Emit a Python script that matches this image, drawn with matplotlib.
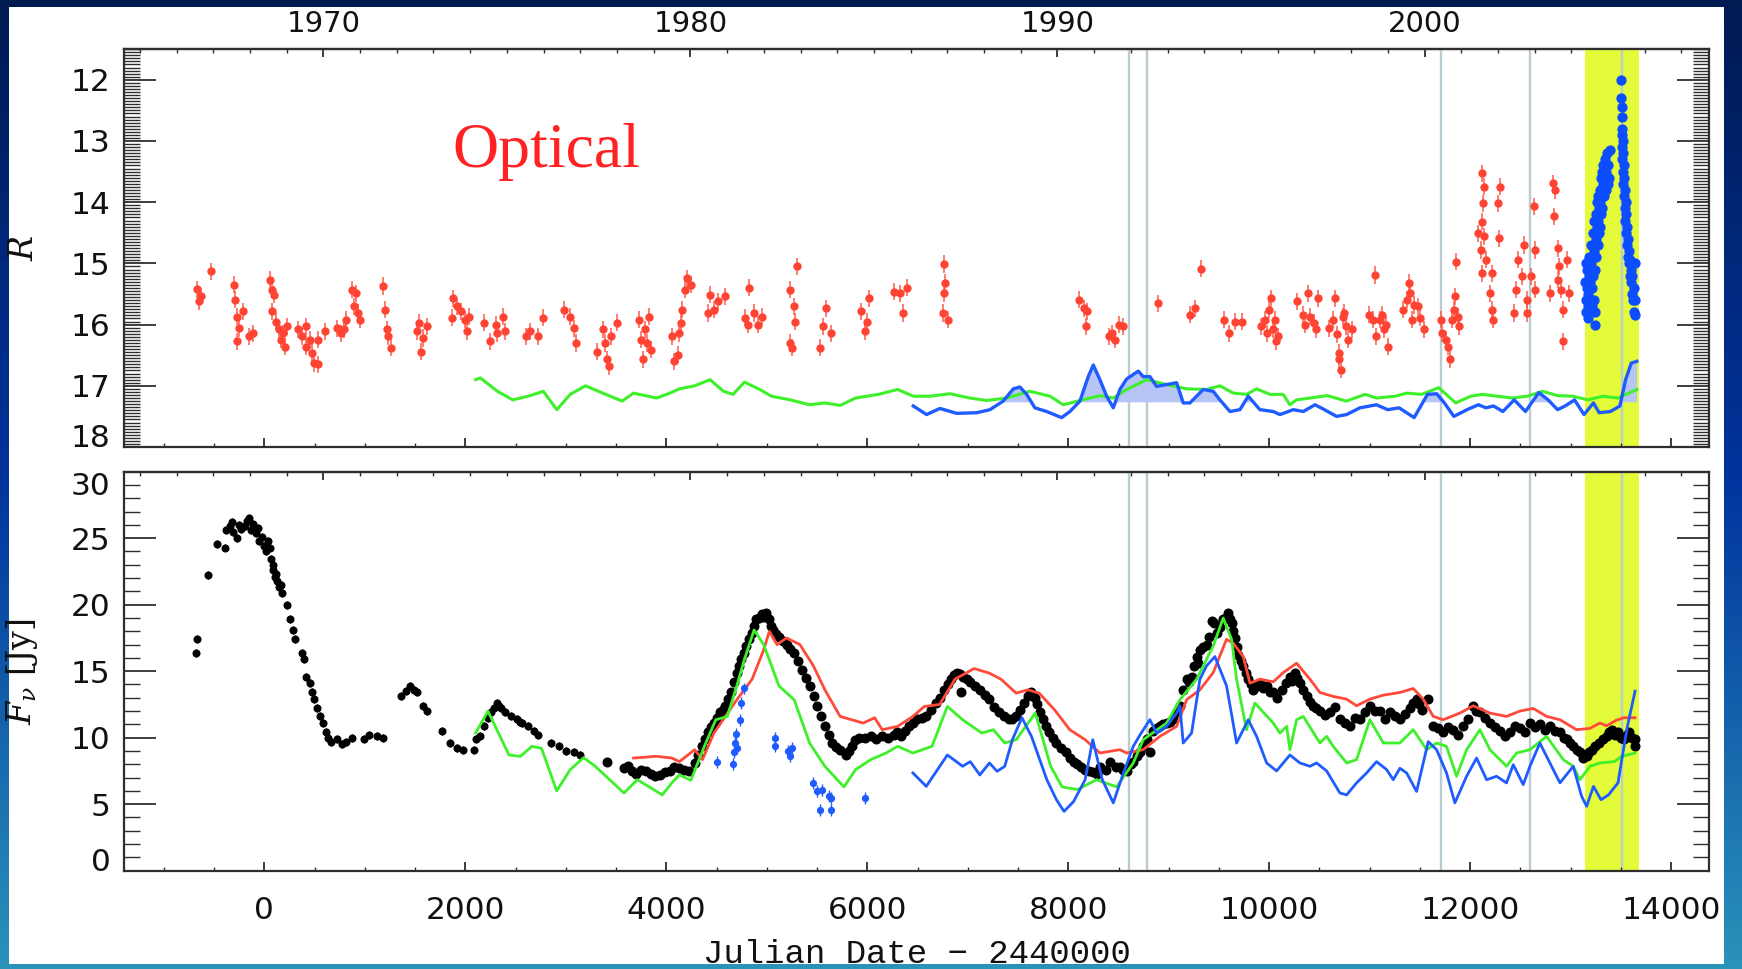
import numpy as np
import matplotlib
matplotlib.use("Agg")
import matplotlib.pyplot as plt
from matplotlib.colors import LinearSegmentedColormap
from matplotlib.patches import Rectangle
from matplotlib.ticker import FixedLocator, MultipleLocator, NullFormatter

plt.rcParams["font.family"] = ["DejaVu Sans"]
plt.rcParams["mathtext.fontset"] = "dejavuserif"

# ---------------- data (JD - 2440000) ----------------
# optical R magnitudes, archival (red) as (JD, R)
red_opt = [
    (-669, 15.42), (-650, 15.62), (-631, 15.54), (-528, 15.13),
    (-300, 15.35), (-288, 15.59), (-269, 15.87), (-250, 16.06), (-269, 16.27), (-212, 15.78), (-155, 16.19), (-117, 16.14),
    (55, 15.27), (74, 15.43), (93, 15.51), (74, 15.78), (112, 15.95), (150, 16.08), (169, 16.25), (207, 16.36), (188, 16.14), (226, 16.03),
    (340, 16.08), (378, 16.19), (416, 16.36), (454, 16.25), (473, 16.46), (492, 16.63), (531, 16.65), (416, 16.03), (531, 16.25), (607, 16.11),
    (721, 16.06), (759, 16.14), (797, 16.08), (816, 15.92), (873, 15.43), (911, 15.49), (930, 15.81), (892, 15.7), (949, 15.92),
    (1178, 15.37), (1197, 15.76), (1216, 16.08), (1235, 16.19), (1262, 16.38),
    (1521, 16.11), (1540, 15.97), (1578, 16.22), (1559, 16.44), (1616, 16.03),
    (1882, 15.57), (1863, 15.89), (1921, 15.7), (1959, 15.78), (1997, 15.92), (2016, 16.11), (2035, 15.87),
    (2187, 15.97), (2244, 16.27), (2301, 16.0), (2320, 16.14), (2377, 15.87), (2396, 16.11),
    (2606, 16.19), (2644, 16.11), (2720, 16.19), (2770, 15.89),
    (2987, 15.76), (3044, 15.87), (3082, 16.06), (3101, 16.3),
    (3312, 16.44), (3370, 16.08), (3389, 16.3), (3408, 16.57), (3427, 16.68), (3453, 16.19), (3514, 15.97),
    (3731, 15.92), (3750, 16.25), (3769, 16.57), (3788, 16.08), (3826, 15.87), (3845, 16.41), (3807, 16.3),
    (4055, 16.19), (4074, 16.6), (4112, 16.49), (4131, 16.14), (4150, 15.97), (4161, 15.76), (4188, 15.43), (4207, 15.24), (4245, 15.35),
    (4417, 15.81), (4436, 15.51), (4474, 15.76), (4512, 15.62), (4580, 15.54),
    (4786, 15.89), (4816, 16.0), (4824, 15.4), (4874, 15.81), (4912, 16.0), (4950, 15.87),
    (5228, 15.43), (5235, 16.3), (5254, 16.38), (5266, 15.7), (5281, 15.95), (5300, 15.05),
    (5532, 16.38), (5559, 16.03), (5590, 15.73), (5635, 16.14),
    (5940, 15.78), (5978, 16.11), (5997, 15.95), (6016, 15.57),
    (6264, 15.46), (6321, 15.49), (6359, 15.81), (6397, 15.4),
    (6759, 15.01), (6778, 15.32), (6759, 15.49), (6751, 15.81), (6808, 15.92),
    (8110, 15.59), (8160, 15.73), (8186, 15.78), (8175, 16.03),
    (8404, 16.19), (8434, 16.14), (8464, 16.25), (8503, 16.0), (8548, 16.03),
    (8891, 15.65), (9207, 15.84), (9264, 15.73), (9320, 15.09),
    (9545, 15.92), (9602, 16.14), (9658, 15.95), (9733, 15.95),
    (9921, 16.03), (9958, 15.92), (9996, 15.76), (10015, 15.57), (10034, 16.08), (10071, 16.27), (10090, 16.19), (9977, 16.14), (10053, 15.92),
    (10278, 15.62), (10334, 15.84), (10353, 16.0), (10390, 15.49), (10409, 15.87), (10466, 16.08), (10484, 15.57), (10447, 15.97),
    (10597, 16.06), (10653, 15.57), (10672, 16.16), (10691, 16.46), (10710, 16.74), (10729, 15.87), (10747, 15.81), (10766, 16.03),
    (10785, 16.25), (10822, 16.08), (10635, 15.92), (10691, 16.57),
    (10991, 15.84), (11029, 15.92), (11048, 15.19), (11066, 16.19), (11104, 15.92), (11123, 15.84), (11142, 16.08), (11179, 16.36), (11160, 16.0),
    (11330, 15.76), (11367, 15.59), (11386, 15.32), (11405, 15.49), (11442, 15.68), (11480, 15.7), (11499, 15.89), (11536, 16.08), (11424, 15.92),
    (11705, 15.92), (11724, 16.14), (11761, 16.25), (11780, 16.36), (11799, 16.57), (11818, 15.92), (11837, 15.76), (11874, 15.87),
    (11893, 16.03), (11855, 14.97), (11848, 15.54),
    (12118, 13.53), (12137, 13.75), (12126, 14.02), (12118, 14.32), (12137, 14.56), (12111, 14.78), (12156, 14.94), (12212, 15.16),
    (12118, 15.16), (12193, 15.49), (12212, 15.76), (12231, 15.92), (12299, 13.75), (12276, 14.02), (12287, 14.59), (12081, 14.51),
    (12456, 15.43), (12475, 14.94), (12512, 15.21), (12531, 14.7), (12569, 15.59), (12607, 15.21), (12637, 14.07), (12644, 14.78),
    (12569, 15.81), (12437, 15.81), (12644, 15.43),
    (12824, 13.69), (12839, 13.8), (12832, 14.23), (12869, 14.75), (12888, 15.05), (12907, 15.43), (12926, 15.76), (12926, 16.27),
    (12963, 14.94), (12982, 15.49), (12794, 15.49), (12869, 15.27),
]
red_opt_err = 0.14

# optical R magnitudes, recent campaign (blue) as (JD, R)
blue_opt = [
    (13145, 15.3), (13148, 15.6), (13152, 15.0), (13156, 15.8), (13160, 15.4), (13165, 15.1), (13168, 15.7), (13172, 15.5),
    (13176, 15.9), (13180, 15.2), (13184, 14.9), (13188, 15.6), (13192, 15.3), (13196, 15.8), (13200, 15.0), (13204, 14.7),
    (13208, 15.4), (13212, 15.7), (13216, 14.9), (13220, 14.5), (13224, 15.2), (13228, 15.6), (13232, 14.8), (13236, 14.3),
    (13240, 16.0), (13242, 15.8), (13244, 15.1), (13248, 14.6), (13252, 14.2), (13256, 14.9), (13260, 14.4), (13264, 14.0),
    (13268, 14.7), (13272, 14.3), (13276, 13.9), (13280, 14.5), (13284, 14.1), (13288, 13.8), (13292, 14.4), (13296, 14.0),
    (13300, 13.6), (13304, 14.2), (13308, 13.9), (13312, 13.5), (13316, 14.1), (13320, 13.7), (13324, 13.4), (13330, 13.9),
    (13336, 13.6), (13342, 13.3), (13348, 13.8), (13354, 13.5), (13360, 13.2), (13366, 13.7), (13372, 13.4), (13380, 13.6),
    (13390, 13.15),
    (13503, 12.0), (13505, 12.3), (13507, 12.6), (13506, 12.9), (13509, 12.45), (13511, 13.1), (13513, 12.8), (13515, 13.3),
    (13518, 13.0), (13520, 13.5), (13522, 13.2), (13525, 13.7), (13528, 13.4), (13531, 13.9), (13534, 13.6), (13537, 14.1),
    (13540, 13.8), (13543, 14.3), (13546, 14.0), (13550, 14.5), (13554, 14.2), (13558, 14.7), (13562, 14.4), (13566, 14.9),
    (13570, 14.6), (13575, 15.0), (13580, 14.8), (13585, 15.2), (13590, 14.95), (13596, 15.3), (13602, 15.1), (13608, 15.5),
    (13614, 15.2), (13620, 15.6), (13626, 15.4), (13632, 15.8), (13638, 15.6), (13642, 15.85), (13636, 15.0),
]

# optical model curves
green_opt_jd = [2103, 2149, 2320, 2473, 2625, 2777, 2911, 3044, 3196, 3369, 3560, 3674, 3903, 4036, 4131, 4283,
                4436, 4569, 4664, 4778, 4931, 5045, 5235, 5426, 5578, 5730, 5883, 6111, 6302, 6458, 6624, 6823,
                7022, 7188, 7386, 7619, 7818, 7950, 8116, 8315, 8448, 8580, 8780, 8979, 9178, 9376, 9509, 9642,
                9775, 9874, 10007, 10139, 10206, 10272, 10405, 10578, 10766, 10954, 11066, 11254, 11367, 11517,
                11686, 11855, 12006, 12118, 12268, 12419, 12569, 12719, 12869, 13020, 13170, 13320, 13470, 13658]
green_opt_r = [16.90, 16.87, 17.09, 17.23, 17.17, 17.09, 17.39, 17.14, 17.0, 17.12, 17.25, 17.12, 17.2, 17.12, 17.05, 17.0,
               16.9, 17.09, 17.14, 16.94, 17.06, 17.17, 17.23, 17.31, 17.28, 17.32, 17.2, 17.14, 17.06, 17.17, 17.17, 17.13,
               17.2, 17.24, 17.2, 17.09, 17.17, 17.31, 17.24, 17.16, 17.2, 17.06, 16.9, 16.98, 17.05, 17.06, 17.0, 17.12,
               17.14, 17.05, 17.14, 17.14, 17.31, 17.23, 17.2, 17.16, 17.25, 17.14, 17.2, 17.17, 17.12, 17.14,
               17.03, 17.28, 17.17, 17.14, 17.17, 17.2, 17.17, 17.09, 17.16, 17.17, 17.23, 17.17, 17.2, 17.06]

blue_opt_line_jd = [6458, 6590, 6723, 6889, 7088, 7221, 7353, 7453, 7519, 7586, 7668, 7785, 7934, 8017, 8116, 8199,
                    8249, 8315, 8382, 8448, 8514, 8580, 8697, 8746, 8813, 8879, 8979, 9078, 9144, 9211, 9343, 9443,
                    9509, 9609, 9708, 9791, 9907, 10040, 10106, 10239, 10339, 10455, 10538, 10670, 10770, 10902, 11066,
                    11179, 11292, 11442, 11574, 11667, 11743, 11837, 11968, 12081, 12156, 12231, 12325, 12437, 12550,
                    12682, 12775, 12869, 12944, 13038, 13132, 13226, 13283, 13395, 13489, 13546, 13602, 13658]
blue_opt_line_r = [17.33, 17.47, 17.37, 17.45, 17.44, 17.39, 17.25, 17.05, 17.02, 17.14, 17.36, 17.42, 17.52, 17.42, 17.25, 16.85,
                   16.66, 16.9, 17.17, 17.36, 17.06, 16.89, 16.76, 16.85, 16.85, 17.01, 16.98, 16.95, 17.28, 17.28, 17.06, 17.09,
                   17.23, 17.42, 17.39, 17.17, 17.39, 17.42, 17.47, 17.39, 17.42, 17.31, 17.38, 17.5, 17.47, 17.36, 17.31,
                   17.39, 17.36, 17.52, 17.14, 17.13, 17.28, 17.5, 17.39, 17.31, 17.36, 17.33, 17.42, 17.23, 17.42,
                   17.11, 17.23, 17.39, 17.33, 17.23, 17.47, 17.28, 17.44, 17.42, 17.33, 16.9, 16.63, 16.6]
shade_level = 17.27

# radio flux density (Jy) as (JD, F)
radio_early = [
    (-680, 16.4), (-669, 17.4), (-562, 22.2), (-467, 24.6), (-391, 24.3), (-383, 25.6), (-345, 25.9), (-320, 26.2),
    (-307, 25.5), (-269, 25.0), (-250, 26.0), (-230, 25.7), (-193, 25.9), (-174, 26.3), (-150, 26.5), (-136, 25.6),
    (-109, 26.1), (-79, 25.4), (-60, 25.8), (-48, 24.8), (-22, 25.1), (-2, 24.4), (20, 24.0), (36, 24.8), (55, 24.3),
    (66, 23.4), (82, 22.6), (90, 23.0), (104, 22.1), (120, 22.3), (131, 21.8), (150, 21.3), (165, 21.5), (180, 20.9),
    (226, 20.0), (257, 18.9), (283, 18.1), (302, 17.4), (371, 16.4), (397, 15.9), (416, 14.6), (454, 14.1), (473, 13.4),
    (492, 12.9), (523, 12.2), (550, 11.6), (588, 11.1), (614, 10.4), (637, 10.0), (664, 9.7), (721, 9.9), (778, 9.5),
    (816, 9.7), (873, 10.0), (988, 9.9), (1045, 10.2), (1121, 10.1), (1178, 10.0),
    (1361, 13.1), (1406, 13.5), (1452, 13.9), (1490, 13.6), (1521, 13.4), (1578, 12.4), (1616, 12.0), (1768, 10.5),
    (1844, 9.6), (1921, 9.2), (1978, 9.1), (2084, 9.1), (2111, 9.9), (2149, 10.1), (2187, 10.9), (2225, 11.5),
    (2260, 11.9), (2282, 12.2), (2320, 12.6), (2340, 12.4), (2358, 12.2), (2396, 11.9), (2454, 11.6), (2511, 11.4),
    (2540, 11.2), (2568, 11.1), (2625, 10.9), (2682, 10.5), (2720, 10.2), (2853, 9.6), (2930, 9.4), (3006, 9.0),
    (3082, 8.9), (3139, 8.7),
]
radio_dense = [
    (3408, 8.2), (3579, 7.7), (3620, 7.9), (3655, 7.5), (3700, 7.3), (3750, 7.6), (3800, 7.5), (3845, 7.3), (3890, 7.1),
    (3941, 7.2), (3990, 7.4), (4036, 7.5), (4080, 7.8), (4131, 7.7), (4180, 7.6), (4226, 7.5), (4283, 8.1), (4320, 8.7),
    (4360, 9.4), (4390, 9.9), (4417, 10.4), (4445, 10.8), (4474, 11.1), (4500, 11.5), (4531, 11.9), (4560, 12.1),
    (4588, 12.4), (4615, 12.9), (4645, 13.4), (4675, 14.2), (4702, 14.9), (4720, 15.4), (4740, 15.9), (4770, 16.4),
    (4797, 16.9), (4825, 17.4), (4854, 17.9), (4875, 18.4), (4893, 18.9), (4920, 19.0), (4950, 19.3), (4970, 19.1),
    (4996, 19.4), (5026, 18.9), (5045, 18.4), (5064, 18.1), (5090, 17.8), (5121, 17.6), (5160, 17.3), (5197, 17.0),
    (5235, 16.7), (5273, 16.4), (5310, 15.8), (5350, 15.1), (5390, 14.5), (5426, 13.9), (5465, 13.1), (5502, 12.4),
    (5540, 11.6), (5578, 10.9), (5615, 10.2), (5654, 9.6), (5690, 9.3), (5730, 9.1), (5788, 8.7), (5815, 9.0),
    (5845, 9.4), (5880, 9.8), (5921, 10.0), (5980, 10.0), (6035, 10.1), (6090, 9.9), (6149, 10.1), (6205, 10.0),
    (6264, 10.2), (6300, 10.4), (6340, 10.1), (6380, 10.5), (6416, 10.9), (6455, 11.1), (6492, 11.4), (6540, 11.5),
    (6587, 11.6), (6635, 12.1), (6682, 12.6), (6720, 13.0), (6759, 13.6), (6800, 14.0), (6835, 14.4), (6860, 14.7),
    (6892, 14.9), (6920, 14.8), (6930, 13.4), (6949, 14.6), (6990, 14.4), (7025, 14.2), (7070, 13.9), (7120, 13.6),
    (7170, 13.2), (7216, 12.9), (7260, 12.3), (7311, 11.9), (7360, 11.6), (7406, 11.4), (7445, 11.4), (7482, 11.6),
    (7520, 12.1), (7558, 12.6), (7600, 13.1), (7634, 13.4), (7665, 13.0), (7692, 12.5), (7720, 11.9), (7749, 11.4),
    (7780, 10.9), (7806, 10.4), (7845, 10.0), (7882, 9.6), (7930, 9.2), (7977, 8.9), (8015, 8.5), (8053, 8.2),
    (8090, 8.0), (8130, 7.8), (8170, 7.6), (8206, 7.5), (8245, 7.4), (8282, 7.3), (8315, 7.8), (8377, 7.6),
    (8415, 8.2), (8472, 7.8), (8514, 7.8), (8548, 7.6), (8580, 7.5), (8624, 8.0), (8647, 8.2), (8680, 8.6),
    (8713, 8.9), (8745, 9.4), (8779, 9.9), (8815, 8.9), (8846, 10.5), (8880, 10.7), (8912, 10.9), (8945, 11.0),
    (8978, 11.1), (9010, 11.2), (9045, 11.4), (9080, 11.9), (9111, 12.4), (9144, 13.6), (9177, 14.4), (9200, 14.2),
    (9227, 14.6), (9250, 15.4), (9277, 16.1), (9295, 15.6), (9310, 16.6), (9340, 16.8), (9376, 17.0), (9400, 17.6),
    (9426, 18.8), (9450, 18.6), (9476, 17.9), (9510, 18.3), (9542, 18.9), (9570, 19.0), (9592, 19.4), (9610, 18.9),
    (9625, 18.6), (9640, 18.0), (9658, 17.5), (9675, 16.8), (9691, 16.2), (9715, 15.8), (9741, 15.4), (9765, 14.9),
    (9791, 14.4), (9815, 14.0), (9841, 13.6), (9875, 13.9), (9907, 14.1), (9940, 13.7), (9974, 13.9), (10005, 13.4),
    (10040, 13.4), (10080, 13.0), (10123, 13.6), (10165, 14.1), (10206, 14.6), (10230, 14.3), (10255, 14.9),
    (10280, 14.5), (10305, 14.1), (10340, 13.6), (10372, 13.1), (10405, 12.7), (10438, 12.4), (10470, 12.2),
    (10504, 12.0), (10555, 11.7), (10604, 11.9), (10650, 12.3), (10703, 11.4), (10750, 11.1), (10803, 10.9),
    (10850, 11.5), (10902, 11.4), (10950, 11.9), (11002, 12.4), (11050, 12.0), (11101, 12.0), (11150, 11.4),
    (11201, 11.9), (11250, 11.6), (11300, 11.4), (11350, 11.8), (11400, 12.2), (11430, 12.6), (11466, 12.9),
    (11490, 12.5), (11516, 12.1), (11582, 12.9), (11632, 10.9), (11680, 10.7), (11731, 10.4), (11780, 10.8),
    (11831, 10.6), (11880, 10.2), (11930, 10.9), (11980, 11.4), (12030, 12.4), (12060, 12.0), (12096, 11.9),
    (12150, 11.5), (12196, 11.1), (12245, 10.8), (12295, 10.5), (12345, 10.1), (12395, 10.4), (12445, 10.9),
    (12494, 10.7), (12545, 10.4), (12594, 11.1), (12640, 10.8), (12693, 11.0), (12740, 10.6), (12793, 10.9),
    (12840, 10.5), (12893, 10.4), (12930, 10.0), (12959, 9.9), (12990, 9.6), (13025, 9.4), (13060, 9.1), (13091, 8.9),
    (13125, 8.5), (13158, 8.6), (13185, 8.9), (13208, 9.1), (13245, 9.4), (13283, 9.6), (13320, 9.9), (13358, 10.1),
    (13385, 10.4), (13414, 10.6), (13440, 10.2), (13470, 10.4), (13500, 10.0), (13527, 9.9), (13555, 10.2),
    (13583, 10.4), (13610, 10.0), (13640, 9.9), (13640, 9.4),
]
radio_err = 0.3

radio_blue = [
    (4504, 8.2), (4664, 8.0), (4670, 8.9), (4680, 9.6), (4690, 10.3), (4700, 9.2), (4733, 11.3), (4740, 12.6),
    (4771, 13.7), (5083, 10.0), (5083, 9.4), (5216, 9.0), (5235, 8.6), (5254, 9.2), (5456, 6.6), (5502, 6.0),
    (5548, 6.1), (5532, 4.6), (5616, 5.6), (5635, 5.5), (5635, 4.6), (5978, 5.5),
]
radio_blue_err = 0.45

# radio model curves
red_model_jd = [3674, 3903, 4055, 4131, 4283, 4360, 4474, 4588, 4702, 4854, 4969, 5026, 5102, 5197, 5330, 5464,
                5578, 5730, 5845, 5959, 6073, 6149, 6302, 6454, 6568, 6720, 6873, 7063, 7216, 7330, 7482, 7596,
                7711, 7863, 8015, 8168, 8315, 8514, 8580, 8746, 8912, 9078, 9177, 9310, 9443, 9575, 9642, 9741,
                9808, 9907, 10040, 10140, 10272, 10405, 10504, 10637, 10770, 10869, 11002, 11135, 11300, 11433,
                11532, 11632, 11731, 11897, 12030, 12196, 12361, 12494, 12627, 12760, 12893, 13058, 13191, 13290,
                13358, 13450, 13530, 13640]
red_model_f = [8.47, 8.6, 8.47, 8.2, 9.1, 8.35, 10.35, 11.6, 12.85, 14.4, 16.6, 18.0, 17.0, 17.5, 17.0, 15.4,
               13.6, 11.6, 11.35, 11.1, 11.5, 10.6, 10.85, 11.6, 12.35, 12.5, 14.4, 15.2, 14.85, 14.4, 13.35, 13.6,
               13.35, 12.1, 10.6, 9.85, 8.85, 9.1, 8.85, 9.1, 10.1, 10.85, 12.85, 13.6, 14.9, 17.4, 17.1, 16.1,
               14.1, 14.4, 14.2, 14.9, 15.6, 14.4, 13.4, 13.1, 12.9, 12.4, 12.9, 13.2, 13.4, 13.7,
               12.9, 11.6, 11.35, 11.85, 12.4, 11.85, 11.6, 12.0, 12.2, 11.6, 11.35, 10.6, 10.7, 11.1,
               10.9, 11.3, 11.5, 11.5]

green_model_jd = [2103, 2225, 2435, 2549, 2663, 2758, 2910, 3044, 3177, 3293, 3579, 3712, 3960, 4055, 4131, 4245,
                  4379, 4493, 4607, 4702, 4778, 4874, 4969, 5121, 5273, 5426, 5578, 5768, 5883, 6035, 6187, 6302,
                  6454, 6644, 6797, 6949, 7140, 7254, 7368, 7482, 7672, 7825, 7939, 8091, 8282, 8481, 8647, 8746,
                  8978, 9111, 9277, 9376, 9443, 9542, 9625, 9675, 9774, 9857, 10040, 10106, 10173, 10206, 10272,
                  10339, 10504, 10571, 10637, 10770, 10869, 11002, 11135, 11300, 11433, 11566, 11665, 11764, 11864,
                  11964, 12096, 12196, 12361, 12461, 12594, 12760, 12926, 13025, 13091, 13191, 13290, 13433, 13508,
                  13640]
green_model_f = [10.35, 12.0, 8.7, 8.6, 9.35, 9.2, 6.0, 7.6, 8.5, 7.85, 5.84, 6.84, 5.7, 6.6, 7.2, 6.8,
                 9.35, 11.35, 11.6, 13.9, 15.9, 18.1, 17.0, 13.9, 12.85, 9.6, 7.85, 6.3, 7.6, 8.35, 8.85, 9.35,
                 8.85, 9.35, 12.35, 11.35, 10.35, 10.6, 9.6, 9.85, 11.85, 7.85, 6.3, 6.1, 6.84, 6.3, 8.1, 9.85,
                 11.1, 12.85, 14.4, 15.9, 16.9, 19.0, 17.4, 14.4, 10.6, 12.6, 11.1, 10.35, 10.85, 9.1, 11.35,
                 11.6, 9.6, 10.1, 9.35, 8.1, 8.35, 11.35, 9.6, 9.6, 10.6, 9.1, 9.6, 9.35, 7.1,
                 9.1, 10.6, 9.1, 7.85, 8.85, 9.1, 10.1, 8.35, 7.85, 6.84, 7.85, 8.1, 8.2, 8.6,
                 8.85]

blue_model_jd = [6454, 6587, 6797, 6949, 7025, 7120, 7216, 7292, 7368, 7444, 7539, 7634, 7787, 7882, 7958, 8053,
                 8168, 8244, 8339, 8448, 8547, 8647, 8713, 8812, 8879, 8978, 9078, 9111, 9144, 9227, 9310, 9376,
                 9459, 9575, 9675, 9791, 9874, 9974, 10073, 10206, 10305, 10405, 10471, 10571, 10703, 10770, 10869,
                 10969, 11068, 11168, 11234, 11300, 11367, 11466, 11582, 11665, 11764, 11847, 11964, 12063, 12163,
                 12262, 12361, 12428, 12527, 12594, 12693, 12776, 12893, 13025, 13108, 13158, 13226, 13301, 13376,
                 13470, 13508, 13564, 13640]
blue_model_f = [7.35, 6.34, 8.7, 7.85, 8.2, 7.2, 8.1, 7.47, 7.85, 9.85, 11.5, 10.1, 6.84, 5.34, 4.46, 5.2,
                6.84, 9.85, 6.84, 5.1, 7.3, 9.35, 10.2, 11.35, 10.35, 10.85, 11.85, 12.4, 9.6, 10.35, 14.4, 15.4,
                16.1, 13.9, 9.6, 11.35, 10.1, 8.1, 7.5, 8.7, 8.1, 7.85, 8.1, 7.5, 5.84, 5.7, 6.6,
                7.35, 8.2, 7.6, 6.84, 7.7, 7.35, 5.96, 9.7, 9.1, 7.35, 5.1, 7.1, 8.47, 6.84,
                7.1, 6.6, 7.97, 6.47, 7.85, 9.6, 8.35, 6.6, 7.85, 5.6, 4.84, 6.34, 5.34, 5.7,
                6.6, 8.35, 10.85, 13.5]

event_jd = [8600, 8780, 11710, 12590, 13510]
campaign_jd = (13145, 13675)

jd_range = (-1393, 14373)
r_range = (18, 11.5)
f_range = (0, 30)
r_ticks = [12, 13, 14, 15, 16, 17, 18]
f_ticks = [0, 5, 10, 15, 20, 25, 30]
year_ticks = [1970, 1980, 1990, 2000]

INK = "#2e2e2e"
TXT = "#111111"


def jd_to_year(jd):
    return 1970.0 + (np.asarray(jd, dtype=float) - 587.5) / 365.25


def year_to_jd(year):
    return 587.5 + (np.asarray(year, dtype=float) - 1970.0) * 365.25


def frame(ax, show_years):
    for sp in ax.spines.values():
        sp.set_linewidth(1.6)
        sp.set_color(INK)
    ax.set_xlim(*jd_range)
    ax.xaxis.set_major_locator(MultipleLocator(2000))
    ax.xaxis.set_minor_locator(MultipleLocator(500))
    ax.tick_params(which="both", direction="in", right=True, top=False, color=INK, labelcolor=TXT)
    ax.tick_params(axis="y", which="major", length=22.8, width=1.3, pad=10, labelsize=22.5)
    ax.tick_params(axis="y", which="minor", length=11.3, width=1.0)
    ax.tick_params(axis="x", which="major", length=6.5, width=1.3, pad=18, labelsize=22.5)
    ax.tick_params(axis="x", which="minor", length=3.2, width=1.0)
    sec = ax.secondary_xaxis("top", functions=(jd_to_year, year_to_jd))
    sec.xaxis.set_major_locator(FixedLocator(year_ticks))
    sec.xaxis.set_minor_locator(MultipleLocator(1))
    sec.tick_params(which="both", direction="in", color=INK, labelcolor=TXT)
    sec.tick_params(which="major", length=5.8, width=1.3, pad=8, labelsize=21)
    sec.tick_params(which="minor", length=2.6, width=1.0)
    sec.spines["top"].set_linewidth(1.6)
    sec.spines["top"].set_color(INK)
    if not show_years:
        sec.xaxis.set_major_formatter(NullFormatter())
    for x in event_jd:
        ax.axvline(x, color="#b8ccd2", lw=1.7, zorder=0.8)
    ax.axvspan(*campaign_jd, color="#e3fb38", lw=0, zorder=0.5)
    return sec


fig = plt.figure(figsize=(17.42, 9.69), dpi=100)

# slide background with white card
bg = fig.add_axes([0, 0, 1, 1], zorder=-10)
slide = LinearSegmentedColormap.from_list("slide", ["#001a52", "#00349e", "#2a93ba"])
bg.imshow(np.linspace(0, 1, 256).reshape(-1, 1), aspect="auto", cmap=slide, extent=(0, 1, 0, 1))
bg.add_patch(Rectangle((9 / 1742, 5 / 969), 1715 / 1742, 957 / 969, facecolor="white", edgecolor="none"))
bg.set_xlim(0, 1)
bg.set_ylim(0, 1)
bg.axis("off")

ax1 = fig.add_axes([0.07136, 0.53870, 0.90953, 0.41053])
ax2 = fig.add_axes([0.07136, 0.10145, 0.90953, 0.41176])

# ---- optical panel ----
frame(ax1, show_years=True)
ax1.set_ylim(*r_range)
ax1.set_yticks(r_ticks)
ax1.yaxis.set_minor_locator(MultipleLocator(0.05))
ax1.tick_params(labelbottom=False)
ax1.get_yticklabels()[-1].set_verticalalignment("baseline")

bl_r = np.array(blue_opt_line_r)
ax1.fill_between(blue_opt_line_jd, bl_r, shade_level, where=bl_r < shade_level, interpolate=True,
                 color="#b6c4f6", lw=0, zorder=1.5)
ax1.plot(green_opt_jd, green_opt_r, color="#3ef02a", lw=2.2, zorder=2, solid_joinstyle="round")
ax1.plot(blue_opt_line_jd, blue_opt_line_r, color="#1f5cff", lw=2.4, zorder=2.2, solid_joinstyle="round")
rj, rr = np.array(red_opt).T
ax1.errorbar(rj, rr, yerr=red_opt_err, fmt="o", ms=5.0, color="#ff4433", ecolor="#ff5a4a",
             elinewidth=1.1, capsize=0, zorder=3)
bj, br = np.array(blue_opt).T
ax1.plot(bj, br, "o", ms=6.4, color="#0b4dff", zorder=3)
ax1.text(1868, 13.42, "Optical", color="#ff2222", family="Liberation Serif", fontsize=46, va="baseline")
ax1.set_ylabel(r"$R$", fontsize=24, color=TXT)
ax1.yaxis.set_label_coords(-0.053, 0.5)

# ---- radio panel ----
frame(ax2, show_years=False)
ax2.set_ylim(*f_range)
ax2.set_yticks(f_ticks)
ax2.yaxis.set_minor_locator(MultipleLocator(1))
labs = ax2.get_yticklabels()
labs[0].set_verticalalignment("baseline")
labs[-1].set_verticalalignment("top")

ej, ef = np.array(radio_early).T
ax2.errorbar(ej, ef, yerr=radio_err, fmt="o", ms=4.8, color="black", elinewidth=1.0, capsize=0, zorder=2)
dj, df = np.array(radio_dense).T
ax2.plot(dj, df, "o", ms=6.2, color="black", zorder=2)
pj, pf = np.array(radio_blue).T
ax2.errorbar(pj, pf, yerr=radio_blue_err, fmt="o", ms=4.2, color="#1f5cff", elinewidth=1.0, capsize=0, zorder=3)
ax2.plot(red_model_jd, red_model_f, color="#ff4a3a", lw=2.0, zorder=2.5, solid_joinstyle="round")
ax2.plot(green_model_jd, green_model_f, color="#3ef02a", lw=2.0, zorder=2.5, solid_joinstyle="round")
ax2.plot(blue_model_jd, blue_model_f, color="#1f5cff", lw=2.0, zorder=2.6, solid_joinstyle="round")

ax2.set_ylabel(r"$F_\nu\ [\mathrm{Jy}]$", fontsize=24, color=TXT)
ax2.yaxis.set_label_coords(-0.053, 0.5)
ax2.set_xlabel("Julian Date \u2212 2440000", family=["Liberation Mono", "DejaVu Sans Mono"],
               fontsize=24.5, color=TXT, va="baseline")
ax2.xaxis.set_label_coords(0.5, -0.231)

fig.savefig("out.png", dpi=100)
